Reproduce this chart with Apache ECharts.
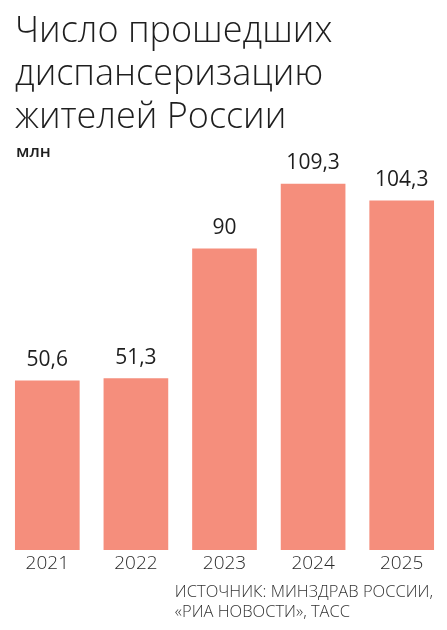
<!DOCTYPE html>
<html><head><meta charset="utf-8">
<script src="https://cdn.jsdelivr.net/npm/echarts@6/dist/echarts.min.js"></script>
<style>html,body{margin:0;padding:0;background:#fff}#c{width:447px;height:630px}</style>
</head><body><div id="c"></div>
<script>
var categories = ['2021','2022','2023','2024','2025'];
var values = [50.6, 51.3, 90, 109.3, 104.3];
var titleLines = ['Число прошедших','диспансеризацию','жителей России'];
var unitLabel = 'млн';
var sourceLines = ['ИСТОЧНИК: МИНЗДРАВ РОССИИ,','«РИА НОВОСТИ», ТАСС'];

var chart = echarts.init(document.getElementById('c'));
var font = '"Open Sans", "Noto Sans", sans-serif';
chart.setOption({
  backgroundColor:'#fff',
  animation:false,
  graphic:[
    {type:'text',left:15,top:10,style:{text:titleLines.join('\n'),font:'300 36px '+font,fill:'#1e1e1e',lineHeight:43}},
    {type:'text',left:16,top:144,style:{text:unitLabel,font:'600 17px '+font,fill:'#1e1e1e'}},
    {type:'text',right:14,top:582,style:{text:sourceLines.join('\n'),font:'300 16.5px '+font,fill:'#333',lineHeight:20,align:'right'}}
  ],
  grid:{left:3,right:1,top:148,bottom:80},
  xAxis:{type:'category',data:categories,axisLine:{show:false},axisTick:{show:false},
    axisLabel:{margin:4,color:'#2a2a2a',fontFamily:font,fontWeight:300,fontSize:19}},
  yAxis:{type:'value',min:0,max:120,show:false,splitLine:{show:false}},
  series:[{type:'bar',data:values,barCategoryGap:'27%',itemStyle:{color:'#F58E7C'},
    label:{show:true,position:'top',distance:10,color:'#1e1e1e',fontFamily:font,fontWeight:500,fontSize:21,
      formatter:function(p){return String(p.value).replace('.',',');}}}]
});
</script></body></html>
